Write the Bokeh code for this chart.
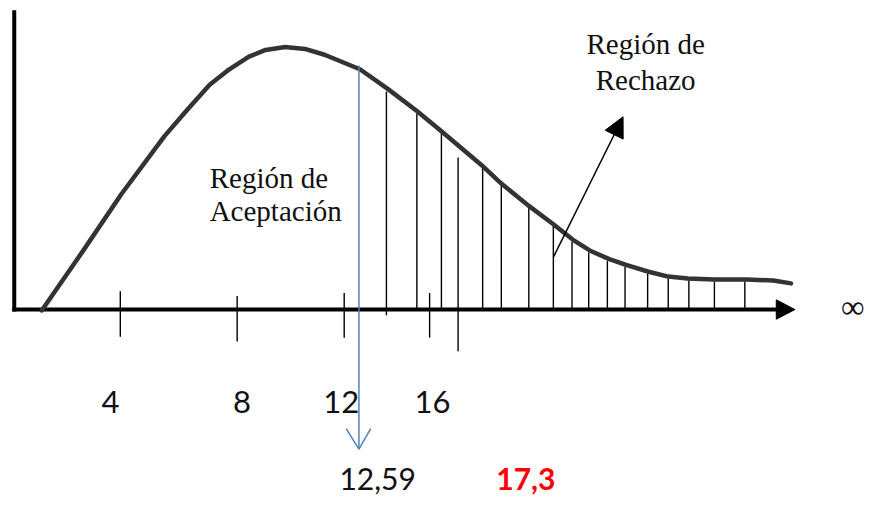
from bokeh.plotting import figure
from bokeh.models import Range1d, Arrow, NormalHead
from bokeh.embed import file_html
from bokeh.resources import INLINE

# ---- values (diagram units, y grows downward) ----
axis_y = 319
yaxis_x = 14
yaxis_top = 10
xaxis_end = 792
xarrow_x = [790, 790, 809]
xarrow_y = [309, 329, 319]

curve_x = [42, 83, 123, 167, 190, 213, 233, 253, 270, 290, 310, 330, 366, 394, 424,
           449, 490, 510, 538, 563, 583, 600, 620, 637, 660, 680, 700, 727, 760, 787, 805]
curve_y = [320, 260, 200, 140, 113, 87, 71, 58, 51, 48, 50, 56, 71, 91, 114,
           135, 170, 189, 212, 231, 247, 258, 267, 273, 280, 285, 287, 288, 288, 289, 292]

hatch_x = [393, 424, 449, 466, 491, 510, 538, 563, 582, 599, 618, 636, 659, 680, 701, 727, 758]
hatch_top = [94, 117, 137, 162, 172, 191, 214, 232, 249, 260, 269, 275, 282, 287, 289, 290, 290]
hatch_bottom = [325, 319, 319, 362, 319, 319, 319, 319, 319, 319, 319, 319, 319, 319, 319, 319, 319]

tick_x = [122, 241, 350, 437]
tick_top = [300, 305, 302, 302]
tick_bottom = [347, 352, 348, 348]

tick_label_x = [112, 246, 347, 440]
tick_labels = ["4", "8", "12", "16"]
tick_label_base = 414

crit_x = 365
crit_top = 67
crit_bottom = 462
crit_head_x = [352, 365, 377]
crit_head_y = [442, 463, 442]

crit_label = "12,59"
crit_label_x = 384
calc_label = "17,3"
calc_label_x = 535
value_label_base = 494

acc_lines = ["Región de", "Aceptación"]
acc_x = 213
acc_base = [183, 217]

rej_lines = ["Región de", "Rechazo"]
rej_x = 657
rej_base = [45, 82]

rej_arrow = (563, 265, 634, 120)

inf_label = "∞"
inf_x = 868
inf_y = 316

# ---- figure ----
p = figure(width=872, height=496, output_backend="svg", toolbar_location=None,
           x_range=Range1d(0, 888), y_range=Range1d(512, 0),
           min_border=0, background_fill_color="white", border_fill_color="white")
p.axis.visible = False
p.grid.visible = False
p.outline_line_color = None

# axes
p.segment(x0=[yaxis_x], y0=[axis_y + 2], x1=[yaxis_x], y1=[yaxis_top],
          line_color="black", line_width=4)
p.segment(x0=[yaxis_x - 2], y0=[axis_y], x1=[xaxis_end], y1=[axis_y],
          line_color="black", line_width=4)
p.patch(xarrow_x, xarrow_y, fill_color="black", line_color="black", line_width=1)

# hatching & ticks
p.segment(x0=hatch_x, y0=hatch_top, x1=hatch_x, y1=hatch_bottom,
          line_color="black", line_width=1.4)
p.segment(x0=tick_x, y0=tick_top, x1=tick_x, y1=tick_bottom,
          line_color="black", line_width=1.4)

# curve
p.line(curve_x, curve_y, line_color="#333333", line_width=4.5,
       line_join="round", line_cap="round")

# critical value line
p.segment(x0=[crit_x], y0=[crit_top], x1=[crit_x], y1=[crit_bottom],
          line_color="#4f81bd", line_width=1.5)
p.line(crit_head_x, crit_head_y, line_color="#4f81bd", line_width=1.5)

# rejection arrow
p.add_layout(Arrow(end=NormalHead(size=20, fill_color="black", line_color="black"),
                   x_start=rej_arrow[0], y_start=rej_arrow[1],
                   x_end=rej_arrow[2], y_end=rej_arrow[3],
                   line_color="black", line_width=1.5))

# texts
p.text(x=tick_label_x, y=[tick_label_base] * len(tick_labels), text=tick_labels,
       text_font={"value": "Lato"}, text_font_size="31px", text_color="#111111",
       text_align="center", text_baseline="alphabetic")
p.text(x=[crit_label_x], y=[value_label_base], text=[crit_label],
       text_font={"value": "Lato"}, text_font_size="30px", text_color="#111111",
       text_align="center", text_baseline="alphabetic")
p.text(x=[calc_label_x], y=[value_label_base], text=[calc_label],
       text_font={"value": "Lato"}, text_font_size="30px", text_font_style="bold",
       text_color="#ff0000", text_align="center", text_baseline="alphabetic")
p.text(x=[acc_x] * 2, y=acc_base, text=acc_lines,
       text_font={"value": "Liberation Serif"}, text_font_size="29px", text_color="#111111",
       text_align="left", text_baseline="alphabetic")
p.text(x=[rej_x] * 2, y=rej_base, text=rej_lines,
       text_font={"value": "Liberation Serif"}, text_font_size="29px", text_color="#111111",
       text_align="center", text_baseline="alphabetic")
p.text(x=[inf_x], y=[inf_y], text=[inf_label],
       text_font={"value": "Liberation Serif"}, text_font_size="33px", text_color="#111111",
       text_align="center", text_baseline="middle")

open("out.html", "w").write(file_html(p, INLINE))
